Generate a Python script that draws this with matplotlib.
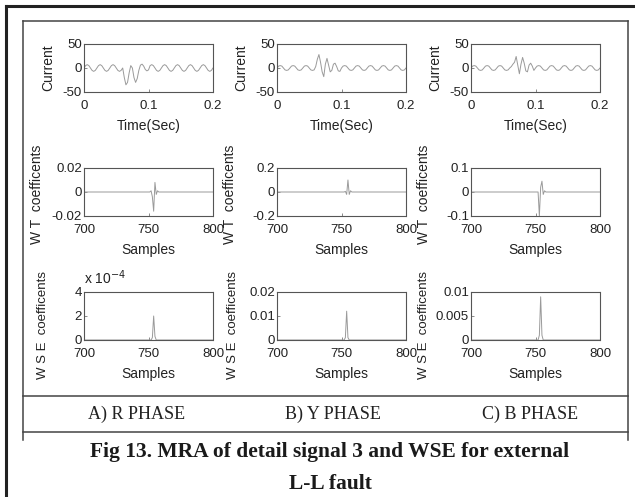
import numpy as np
import matplotlib
matplotlib.use("Agg")
import matplotlib.pyplot as plt
from matplotlib.lines import Line2D

# ---------------- data ----------------
time_s = np.linspace(0, 0.2, 81)
current_r = [0, 5, 7, 5, 0, -5, -7, -5, 0, 5, 7, 5, 0, -5, -7, -5, 0, 5, 7, 5, 0, -5, -7, -5,
             0, -20, -35, -30, -10, 5, 0, -20, -30, -22, -5, 6, 8, 4, -3, -6,
             -4, 5, 7, 5, 0, -5, -7, -5, 0, 5, 7, 5, 0, -5, -7, -5, 0, 5, 7, 5, 0, -5, -7, -5,
             0, 5, 7, 5, 0, -5, -7, -5, 0, 5, 7, 5, 0, -5, -7, -5, 0]
current_y = [0, 4, 5, 4, 0, -4, -5, -4, 0, 4, 5, 4, 0, -4, -5, -4, 0, 4, 5, 4, 0, -4, -5, -4,
             3, 18, 28, 12, -8, -18, 8, 20, 6, -8, -5, 8, 10, 3, -6, -7,
             0, 4, 5, 4, 0, -4, -5, -4, 0, 4, 5, 4, 0, -4, -5, -4, 0, 4, 5, 4, 0, -4, -5, -4,
             0, 4, 5, 4, 0, -4, -5, -4, 0, 4, 5, 4, 0, -4, -5, -4, 0]
current_b = [0, 4, 5, 4, 0, -4, -5, -4, 0, 4, 5, 4, 0, -4, -5, -4, 0, 4, 5, 4, 0, -4, -5, -4,
             0, 3, 8, 12, 24, 6, -12, 8, 22, 10, -6, -8, 6, 10, 4, -5,
             0, 4, 5, 4, 0, -4, -5, -4, 0, 4, 5, 4, 0, -4, -5, -4, 0, 4, 5, 4, 0, -4, -5, -4,
             0, 4, 5, 4, 0, -4, -5, -4, 0, 4, 5, 4, 0, -4, -5, -4, 0]

wt_samples = [700, 751, 752, 753, 754, 755, 756, 757, 758, 800]
wt_r = [0, 0, 0.001, -0.004, -0.016, 0.008, -0.002, 0.001, 0, 0]
wt_y = [0, 0, 0.0, 0.005, -0.02, 0.1, -0.02, 0.01, 0, 0]
wt_b = [0, 0, 0.0, -0.1, 0.02, 0.045, -0.01, 0.005, 0, 0]

wse_samples = [700, 752, 753, 754, 755, 756, 800]
wse_r = [0, 0, 0.2e-4, 2.0e-4, 0.3e-4, 0, 0]
wse_y = [0, 0, 0.001, 0.012, 0.001, 0, 0]
wse_b = [0, 0, 0.001, 0.009, 0.001, 0, 0]

current_ticks_y = [-50, 0, 50]
current_ticklabels_y = ["-50", "0", "50"]
time_ticks = [0, 0.1, 0.2]
time_ticklabels = ["0", "0.1", "0.2"]
sample_ticks = [700, 750, 800]
wt_ticks = [[-0.02, 0, 0.02], [-0.2, 0, 0.2], [-0.1, 0, 0.1]]
wt_ticklabels = [["-0.02", "0", "0.02"], ["-0.2", "0", "0.2"], ["-0.1", "0", "0.1"]]
wse_ticks = [[0, 2e-4, 4e-4], [0, 0.01, 0.02], [0, 0.005, 0.01]]
wse_ticklabels = [["0", "2", "4"], ["0", "0.01", "0.02"], ["0", "0.005", "0.01"]]
phase_labels = ["A) R PHASE", "B) Y PHASE", "C) B PHASE"]
caption1 = "Fig 13. MRA of detail signal 3 and WSE for external"
caption2 = "L-L fault"

# ---------------- figure ----------------
W, H = 635, 497
fig = plt.figure(figsize=(W / 100, H / 100), dpi=100)
fig.patch.set_facecolor("white")

sans = ["Liberation Sans", "DejaVu Sans"]
serif = ["Liberation Serif", "DejaVu Serif"]

def rect(l, t, w, h):
    return [l / W, 1 - (t + h) / H, w / W, h / H]

def fline(x0, y0, x1, y1, lw=1.0, color="#333333"):
    fig.add_artist(Line2D([x0 / W, x1 / W], [1 - y0 / H, 1 - y1 / H],
                          transform=fig.transFigure, lw=lw, color=color))

col_left = [84, 277, 471]
col_w = 129
row_top = [44, 168, 292]
row_h = 48

line_col = "#9a9a9a"
frame_col = "#555555"
txt_col = "#222222"

def style(ax):
    for s in ax.spines.values():
        s.set_color(frame_col)
        s.set_linewidth(0.8)
        s.set_linestyle((0, (2, 1)))
    ax.tick_params(direction="in", length=2, width=0.6, color="#777777",
                   labelsize=9.5, top=False, right=False, labelcolor=txt_col)
    ax.tick_params(axis="y", pad=1.5)
    ax.tick_params(axis="x", pad=6)
    for lab in ax.get_xticklabels() + ax.get_yticklabels():
        lab.set_family(sans)

currents = [current_r, current_y, current_b]
wts = [wt_r, wt_y, wt_b]
wses = [wse_r, wse_y, wse_b]
wse_label_off = [-35, -38, -41]

for c in range(3):
    # row 1: current
    ax = fig.add_axes(rect(col_left[c], row_top[0], col_w, row_h))
    ax.plot(time_s, currents[c], color=line_col, lw=0.7)
    ax.set_xlim(0, 0.2)
    ax.set_ylim(-50, 50)
    ax.set_xticks(time_ticks)
    ax.set_xticklabels(time_ticklabels)
    ax.set_yticks(current_ticks_y)
    ax.set_yticklabels(current_ticklabels_y)
    style(ax)
    ax.set_xlabel("Time(Sec)", family=sans, fontsize=10, color=txt_col, labelpad=5)
    ax.set_ylabel("Current", family=sans, fontsize=10, color=txt_col)
    ax.yaxis.set_label_coords(-29 / col_w, 0.5)

    # row 2: WT coefficients
    ax = fig.add_axes(rect(col_left[c], row_top[1], col_w, row_h))
    ax.plot(wt_samples, wts[c], color=line_col, lw=0.7)
    ax.set_xlim(700, 800)
    ax.set_ylim(wt_ticks[c][0], wt_ticks[c][2])
    ax.set_xticks(sample_ticks)
    ax.set_yticks(wt_ticks[c])
    ax.set_yticklabels(wt_ticklabels[c])
    style(ax)
    ax.set_xlabel("Samples", family=sans, fontsize=10, color=txt_col, labelpad=5)
    ax.set_ylabel("W T  coefficents", family=sans, fontsize=10, color=txt_col)
    ax.yaxis.set_label_coords(-40 / col_w, 0.45)

    # row 3: WSE coefficients
    ax = fig.add_axes(rect(col_left[c], row_top[2], col_w, row_h))
    ax.plot(wse_samples, wses[c], color=line_col, lw=0.7)
    ax.set_xlim(700, 800)
    ax.set_ylim(wse_ticks[c][0], wse_ticks[c][2])
    ax.set_xticks(sample_ticks)
    ax.set_yticks(wse_ticks[c])
    ax.set_yticklabels(wse_ticklabels[c])
    style(ax)
    ax.set_xlabel("Samples", family=sans, fontsize=10, color=txt_col, labelpad=5)
    ax.set_ylabel("W S E  coefficents", family=sans, fontsize=9.5, color=txt_col)
    ax.yaxis.set_label_coords(wse_label_off[c] / col_w, 0.32)
    if c == 0:
        ax.text(0.0, 1.1, r"x 10$^{-4}$", transform=ax.transAxes, family=sans,
                fontsize=10, color=txt_col, ha="left", va="bottom")

# frames
fline(6, 6, 635, 6, lw=2.2, color="#222222")
fline(6, 6, 6, 497, lw=2.2, color="#222222")
fline(23, 21, 628, 21, lw=1.1, color="#444444")
fline(23, 21, 23, 440, lw=1.1, color="#444444")
fline(628, 21, 628, 440, lw=1.1, color="#444444")
fline(23, 396, 628, 396, lw=1.1, color="#444444")
fline(23, 432, 628, 432, lw=1.1, color="#444444")

phase_x = [137, 333, 530]
for x, lab in zip(phase_x, phase_labels):
    fig.text(x / W, 1 - 414 / H, lab, family=serif, fontsize=13, ha="center",
             va="center", color=txt_col)

fig.text(330 / W, 1 - 452 / H, caption1, family=serif, fontsize=15.5, weight="bold",
         ha="center", va="center", color="#1a1a1a")
fig.text(330 / W, 1 - 484 / H, caption2, family=serif, fontsize=15.5, weight="bold",
         ha="center", va="center", color="#1a1a1a")

fig.savefig("out.png", dpi=100, facecolor="white")
